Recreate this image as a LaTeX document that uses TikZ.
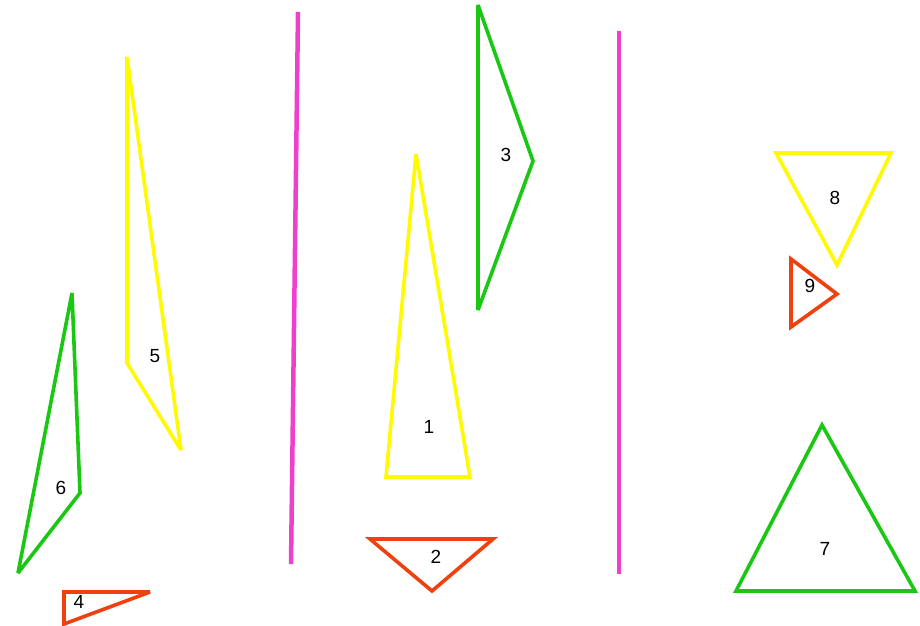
\documentclass[tikz,border=0pt]{standalone}
\usepackage{fontspec}
\setmainfont{Liberation Sans}
\definecolor{tyellow}{RGB}{255,250,0}
\definecolor{tgreen}{RGB}{26,200,20}
\definecolor{tred}{RGB}{240,64,16}
\definecolor{tmag}{RGB}{238,64,204}
\begin{document}
\begin{tikzpicture}[x=1pt,y=-1pt,
  tri/.style={line width=3.6pt,line join=miter,miter limit=3},
  yel/.style={tri,draw=tyellow},
  grn/.style={tri,draw=tgreen},
  rd/.style={tri,draw=tred},
  wall/.style={line width=4.5pt,draw=tmag},
  lbl/.style={inner sep=0pt,font=\fontsize{19}{19}\selectfont}]
\useasboundingbox (0,0) rectangle (920,625);
% walls
\coordinate (w1a) at (298,12); \coordinate (w1b) at (291,564);
\coordinate (w2a) at (619,31); \coordinate (w2b) at (619,574);
\draw[wall] (w1a) -- (w1b);
\draw[wall] (w2a) -- (w2b);
% triangle 1
\coordinate (t1a) at (416,154); \coordinate (t1b) at (386,477); \coordinate (t1c) at (470,477);
\draw[yel] (t1a) -- (t1b) -- (t1c) -- cycle;
\node[lbl] (l1) at (429,427) {1};
% triangle 2
\coordinate (t2a) at (370,539); \coordinate (t2b) at (493,539); \coordinate (t2c) at (432,591);
\draw[rd] (t2a) -- (t2b) -- (t2c) -- cycle;
\node[lbl] (l2) at (436,557) {2};
% triangle 3
\coordinate (t3a) at (478,5); \coordinate (t3b) at (533,161); \coordinate (t3c) at (478,310);
\draw[grn] (t3a) -- (t3b) -- (t3c) -- cycle;
\node[lbl] (l3) at (506,155) {3};
% triangle 4
\coordinate (t4a) at (64,592); \coordinate (t4b) at (150,592); \coordinate (t4c) at (64,624);
\draw[rd] (t4a) -- (t4b) -- (t4c) -- cycle;
\node[lbl] (l4) at (79,602) {4};
% triangle 5
\coordinate (t5a) at (127,57); \coordinate (t5b) at (127,363); \coordinate (t5c) at (181,450);
\draw[yel] (t5a) -- (t5b) -- (t5c) -- cycle;
\node[lbl] (l5) at (155,356) {5};
% triangle 6
\coordinate (t6a) at (72,293); \coordinate (t6b) at (80,493); \coordinate (t6c) at (18,573);
\draw[grn] (t6a) -- (t6b) -- (t6c) -- cycle;
\node[lbl] (l6) at (61,488) {6};
% triangle 7
\coordinate (t7a) at (822,425); \coordinate (t7b) at (736,591); \coordinate (t7c) at (915,591);
\draw[grn] (t7a) -- (t7b) -- (t7c) -- cycle;
\node[lbl] (l7) at (825,549) {7};
% triangle 8
\coordinate (t8a) at (776,153); \coordinate (t8b) at (891,153); \coordinate (t8c) at (837,265);
\draw[yel] (t8a) -- (t8b) -- (t8c) -- cycle;
\node[lbl] (l8) at (835,198) {8};
% triangle 9
\coordinate (t9a) at (791,259); \coordinate (t9b) at (837,294); \coordinate (t9c) at (791,327);
\draw[rd] (t9a) -- (t9b) -- (t9c) -- cycle;
\node[lbl] (l9) at (810,286) {9};
\end{tikzpicture}
\end{document}
